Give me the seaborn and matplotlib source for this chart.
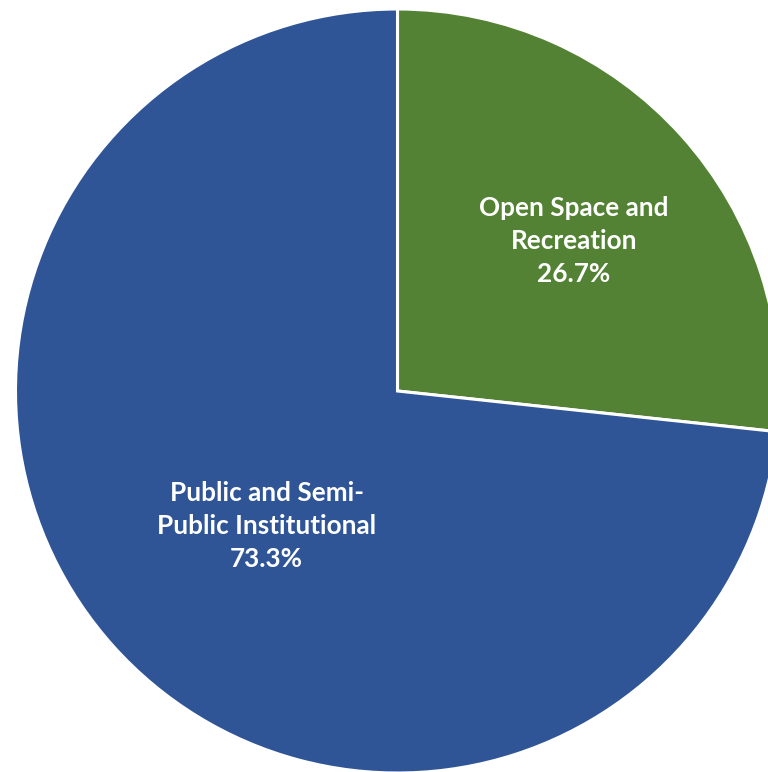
import matplotlib
matplotlib.use("Agg")
import matplotlib.pyplot as plt
import seaborn as sns
import numpy as np

# Land use shares (percent)
categories = ["Open Space and\nRecreation", "Public and Semi-\nPublic Institutional"]
shares = [26.7, 73.3]
colors = ["#548235", "#2F5597"]

# label placement: distance as fraction of radius, plus a small pixel nudge
label_dist = [0.60, 0.51]
label_nudge = [(6, -3), (14, -5)]

sns.set_theme(style="white")
plt.rcParams["font.family"] = ["Lato", "DejaVu Sans"]

W, H = 768, 772
fig = plt.figure(figsize=(W / 100, H / 100), dpi=100)
ax = fig.add_axes([0, 0, 1, 1])

cx, cy, r = 397.5, H - 391, 382
wedges, _ = ax.pie(
    shares,
    colors=colors,
    startangle=90,
    counterclock=False,
    center=(cx, cy),
    radius=r,
    wedgeprops=dict(edgecolor="white", linewidth=2.2),
)

for w, cat, val, d, nudge in zip(wedges, categories, shares, label_dist, label_nudge):
    ang = np.deg2rad((w.theta1 + w.theta2) / 2)
    x = cx + d * r * np.cos(ang)
    y = cy + d * r * np.sin(ang)
    ax.annotate(f"{cat}\n{val:.1f}%", xy=(x, y), xytext=nudge,
                textcoords="offset pixels", ha="center", va="center",
                color="white", fontsize=18.8, fontweight="bold", linespacing=1.45)

ax.set_xlim(0, W)
ax.set_ylim(0, H)
ax.set_aspect("equal")
ax.axis("off")

fig.savefig("out.png", dpi=100)
